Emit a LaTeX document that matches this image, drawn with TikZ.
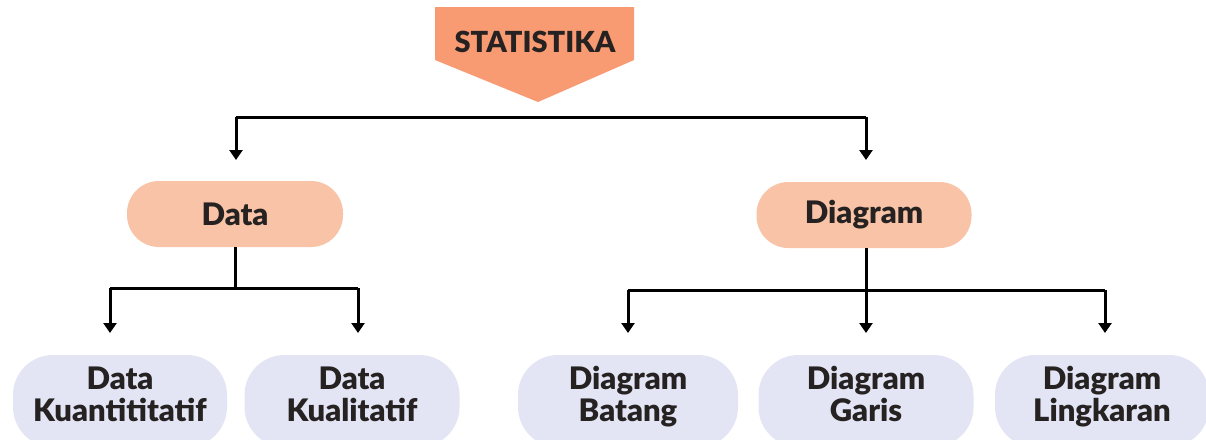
\documentclass[tikz,border=0pt]{standalone}
\usepackage{fontspec}
\setmainfont{Lato}[BoldFont={Lato Black}]
\usetikzlibrary{arrows.meta}
\definecolor{txt}{HTML}{262222}
\definecolor{orng}{HTML}{F89A72}
\definecolor{peach}{HTML}{F8C3A6}
\definecolor{lav}{HTML}{E3E5F5}
\tikzset{
  pill/.style={rounded corners=32pt, minimum height=66pt, inner sep=0pt, text=txt, font=\fontsize{31}{31}\selectfont\bfseries},
  midpill/.style={pill, fill=peach},
  lowpill/.style={pill, fill=lav, rounded corners=40pt, minimum height=92pt, align=center, text height=50pt, text depth=10pt, font=\fontsize{31}{32}\selectfont\bfseries},
  conn/.style={line width=3pt, draw=black},
  arr/.style={conn, -{Triangle[length=10pt,width=13pt]}},
}
\begin{document}
\begin{tikzpicture}[x=1pt,y=-1pt]
\useasboundingbox (0,0) rectangle (1206,439);
\fill[white] (0,0) rectangle (1206,439);
\begin{scope}
\clip (0,0) rectangle (1206,439);
% top pentagon
\fill[orng] (435,7) -- (634,7) -- (634,60) -- (538,102) -- (435,60) -- cycle;
\node[text=txt, font=\fontsize{29}{29}\selectfont\bfseries] (stat) at (535,42) {STATISTIKA};
\coordinate (statTip) at (538,102);
% middle nodes
\node[midpill, minimum width=216pt] (data) at (235,214) {Data};
\node[midpill, minimum width=215pt] (diag) at (864,215) {Diagram};
% bottom nodes
\node[lowpill, minimum width=214pt] (kuan) at (120,401) {Data\\Kuantititatif};
\node[lowpill, minimum width=215pt] (kual) at (352,401) {Data\\Kualitatif};
\node[lowpill, minimum width=220pt] (bat) at (628,401) {Diagram\\Batang};
\node[lowpill, minimum width=215pt] (gar) at (866,401) {Diagram\\Garis};
\node[lowpill, minimum width=214pt] (ling) at (1102,401) {Diagram\\Lingkaran};
\end{scope}
% connectors
\coordinate (topL) at (236,117);
\coordinate (topR) at (866,117);
\draw[conn] (topL) -- (topR);
\draw[arr] (topL) -- (236,160);
\draw[arr] (topR) -- (866,160);
\coordinate (dataBar) at (235,288);
\draw[conn] (data.south) -- (dataBar);
\draw[conn] (110,288) -- (358,288);
\draw[arr] (110,288) -- (110,333);
\draw[arr] (358,288) -- (358,333);
\coordinate (diagBar) at (866,290);
\draw[conn] (866,248) -- (diagBar);
\draw[conn] (628,290) -- (1105,290);
\draw[arr] (628,290) -- (628,333);
\draw[arr] (866,290) -- (866,333);
\draw[arr] (1105,290) -- (1105,333);
\end{tikzpicture}
\end{document}
